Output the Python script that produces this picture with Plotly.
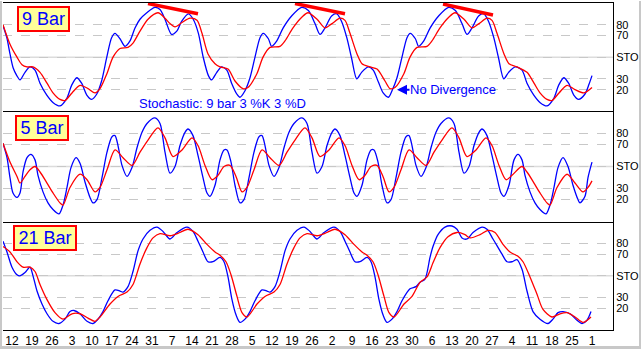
import plotly.graph_objects as go

# ---------------- data (bar index, stochastic value) ----------------
tick_labels = ["12", "19", "26", "3", "10", "17", "24", "31", "7", "14", "21", "28",
               "5", "12", "19", "26", "2", "9", "16", "23", "30", "6", "13", "20",
               "27", "4", "11", "18", "25", "1"]
tick_bars = [5 * i for i in range(len(tick_labels))]

# 9 bar stochastic
k9_bar = [-2.25, -1.3, -0.5, 0.3, 1.2, 2, 3.25, 4.5, 5.75, 7, 8.7, 10.3, 12, 13.7, 14.9, 16.2, 17.4, 18.7, 19.9,
          21.2, 22.4, 23.7, 24.9, 25.75, 27, 28.25, 29.5, 30.75, 32, 33.7, 35.75, 37, 38.25, 39.9, 41.2, 42.4, 44.1,
          45.3, 46.6, 47.8, 49.1, 49.9, 51.2, 52.4, 53.7, 54.9, 56.2, 57,
          58.25, 59.5, 60.75, 62, 62.8, 64.1, 64.9, 66.2, 67.8, 69.9, 72.4, 74.1, 75.75, 77, 78.25, 79.9, 81.2, 82.4,
          83.7, 84.9, 86.2, 87.4, 89.1, 90.3, 91.6, 92.8, 94.1,
          95, 96.25, 97.5, 98.75, 99.55, 100.85, 101.65, 102.95, 104.55, 106.65, 109.15, 110.85, 112.5, 113.75, 115,
          116.65, 117.95, 119.15, 120.45, 121.65, 122.95, 124.15, 125.85,
          127.5, 128.75, 130.45, 132.05, 133.75, 135.45, 136.65, 137.95, 139.15, 140.45, 141.65, 143.25, 144.25, 145]
k9_val = [79, 68, 53, 40, 33, 29, 36, 41, 38, 26, 15, 8, 5, 12, 24, 31, 26, 15, 11,
          16, 28, 50, 68, 72, 67, 60, 65, 77, 85, 91, 96, 94, 85, 71, 74, 83, 90,
          85, 72, 50, 33, 29, 36, 41, 38, 26, 16, 13,
          19, 31, 50, 68, 72, 67, 60, 65, 77, 88, 96, 93, 81, 71, 77, 88, 90, 83,
          68, 49, 30, 36, 41, 38, 27, 17, 13,
          19, 31, 50, 68, 72, 67, 60, 65, 77, 88, 96, 93, 81, 71, 77,
          88, 90, 83, 68, 49, 30, 36, 41,
          38, 26, 15, 8, 5, 12, 24, 31, 26, 15, 11, 16, 25, 33]
d9_bar = [-2.25, -0.5, 1.25, 2.5, 3.75, 5.25, 7, 8.75, 10.25, 12, 13.25, 15, 17, 19, 20.75,
          22, 23.75, 25.25, 27, 29, 30.25, 32, 34, 36.5, 38.25, 39.5, 40.75, 42.5, 44.5, 46.25, 47.5, 49, 50.75,
          52, 54, 55.75, 57.75,
          59, 61.25, 62.75, 64.5, 67, 68.25, 70.25, 72.5, 74, 76.25, 78.25, 80, 82, 83.25, 84.5, 86.25, 87.5, 89.5,
          91.25, 93.25, 94.5,
          95.75, 98, 99.5, 101.25, 103.75, 105, 107, 109.25, 110.75, 113, 115, 116.75, 118.75, 120, 121.25, 123,
          124.25, 126.25,
          128.75, 130.5, 132, 133.75, 135, 136.75, 138.75, 140.75, 143, 145]
d9_val = [80, 62, 50, 43, 41, 41, 36, 26, 17, 11, 10, 17, 24, 21, 17,
          21, 35, 50, 58, 59, 63, 74, 85, 91, 86, 81, 78, 82, 86, 84, 72, 53, 44,
          41, 39, 28, 21,
          22, 35, 50, 59, 60, 65, 77, 87, 91, 85, 77, 81, 86, 84, 72, 53, 44, 41,
          39, 28, 21,
          22, 35, 50, 59, 60, 65, 77, 87, 91, 85, 77, 81, 86, 84, 72, 53,
          44, 41,
          36, 26, 17, 11, 10, 17, 24, 20, 17, 22]

# 5 bar stochastic
k5_bar = [-2.25, -1.25, -0.5, 0.25, 1.25, 2, 2.75, 3.75, 4.75, 5.75, 6.5, 7.75, 9, 10.25, 11.75, 12.75, 13.75,
          14.75, 16, 17, 18.25, 19.5, 20.25,
          21.25, 22.5, 23.75, 25, 25.75, 26.5, 27.5, 28.75, 30, 31.25, 32.5, 33.75, 35.75, 37, 38.25, 39.5, 40.75,
          42, 43.25, 44, 45.25, 46.5, 47.75, 48.75, 49.5, 50.75, 52, 53, 53.75, 54.75, 55.75, 57,
          58, 59.25, 60.5, 61.75, 62.5, 63.25, 64.25, 65.5, 66.75, 68, 69.25, 70.5, 72.5, 73.75, 75, 76.25, 77.5,
          78.75, 80, 80.75, 82, 83.25, 84.5, 85.5, 86.25, 87.5, 88.75, 89.75, 90.5, 91.5, 92.5, 93.75,
          94.75, 96, 97.25, 98.5, 99.25, 100, 101, 102.25, 103.5, 104.75, 106, 107.25, 109.25, 110.5, 111.75, 113,
          114.25, 115.5, 116.75, 117.5, 118.75, 120, 121.25, 122.25, 123, 124.25, 125.5,
          126.5, 127.5, 128.25, 129.5, 130.75, 132, 133.5, 134.5, 135.5, 136.5, 137.75, 139, 140.25, 141.5, 142,
          143.25, 144, 145]
k5_val = [71, 58, 40, 26, 22, 26, 45, 58, 61, 56, 42, 27, 17, 11, 7, 15, 31,
          49, 58, 53, 36, 22, 17,
          20, 40, 63, 77, 78, 69, 51, 41, 49, 67, 81, 89, 94, 89, 63, 44, 50,
          69, 81, 84, 78, 60, 40, 26, 23, 33, 56, 65, 65, 54, 33, 17,
          20, 40, 63, 77, 78, 69, 51, 41, 49, 67, 81, 89, 94, 89, 63, 44, 50,
          69, 81, 84, 78, 60, 40, 26, 23, 33, 56, 65, 65, 54, 33, 17,
          20, 40, 63, 77, 78, 69, 51, 41, 49, 67, 81, 89, 94, 89, 63, 44,
          50, 69, 81, 84, 78, 60, 40, 26, 23, 33, 56,
          61, 56, 42, 27, 17, 11, 7, 15, 31, 49, 58, 50, 33, 20, 17,
          23, 40, 54]
d5_bar = [-2.25, -0.5, 1.25, 2, 3.25, 4.5, 5.75, 7, 8.75, 10.25, 12, 12.75, 14.5, 17, 18.75, 20.75,
          22, 23.75, 25.75, 27.75, 30, 32, 34, 36.5, 38.25, 40.25, 42.5, 45, 46.5, 48.25, 50, 51.5, 53, 54.5,
          56, 57.5,
          58.75, 60.5, 62.5, 64.5, 66.75, 68.75, 70.75, 73.25, 75, 77, 79.25, 81.75, 83.25, 85, 86.75, 88.25,
          89.75, 91.25, 92.75, 94.25,
          95.5, 97.25, 99.25, 101.25, 103.5, 105.5, 107.5, 110, 111.75, 113.75, 116, 118.5, 120, 121.75, 123.5,
          125,
          127.5, 128.75, 130.5, 132, 133.75, 134.5, 136.25, 138.75, 140.75, 142.75, 144, 145]
d5_val = [71, 54, 41, 35, 41, 47, 50, 45, 35, 26, 17, 15, 31, 43, 38, 27,
          31, 47, 65, 58, 51, 63, 74, 85, 76, 59, 65, 76, 69, 51, 38, 42, 50, 51,
          41, 27,
          31, 47, 65, 58, 51, 63, 74, 85, 76, 59, 65, 76, 69, 51, 38, 42,
          50, 51, 41, 27,
          31, 47, 65, 58, 51, 63, 74, 85, 76, 59, 65, 76, 69, 51, 38,
          42,
          50, 45, 35, 26, 17, 15, 31, 43, 35, 27, 31, 37]

# 21 bar stochastic
k21_bar = [-2.25, -1.25, 0, 1.25, 2, 3.25, 4.5, 5.25, 6.25, 7.5, 8.75, 10.25, 11.75, 13.25, 14.5, 15.5, 17,
           18.75, 20.25,
           21.5, 22.75, 24, 25.75, 27, 27.75, 29, 30.25, 31.5, 32.75, 34.5, 36.25, 37.75, 39.5, 41.25, 43.75,
           45.25, 46.5, 47.75, 49, 50.25, 52, 53, 54, 55, 56, 57,
           58.25, 59.5, 60.75, 62.5, 63.75, 64.5, 65.75, 67, 68.25, 69.5, 71.25, 73, 74.5, 76.25, 78, 80.5, 82,
           83.25, 84.5, 85.75, 87, 88.75, 89.75, 90.75, 91.75, 92.75, 93.75,
           95, 96.25, 97.5, 99.5, 101, 102, 103.25, 104.5, 105.25, 106.5, 108.25, 110, 111.25, 112.5, 113.75,
           115.25, 117.5, 118.75, 120.25, 122.5, 123.75, 125, 126.25, 127.5, 128.75, 130.25, 132, 134, 135.25,
           136.5, 137.75, 139.5, 141.25, 142.5, 143.75, 144.75]
k21_val = [82, 72, 58, 51, 50, 53, 58, 50, 36, 24, 15, 8, 6, 10, 17, 18, 15,
           8, 6,
           10, 17, 27, 37, 36, 35, 40, 54, 73, 84, 92, 95, 91, 84, 90, 95,
           91, 82, 72, 63, 63, 67, 63, 49, 28, 14, 7,
           10, 17, 27, 37, 36, 35, 40, 54, 73, 84, 92, 95, 91, 84, 90, 95, 91,
           82, 72, 63, 63, 67, 63, 49, 28, 14, 7,
           10, 17, 27, 38, 40, 44, 47, 67, 77, 88, 95, 96, 93, 85, 84,
           90, 95, 93, 84, 70, 63, 63, 65, 56, 36, 17, 10, 6, 10,
           16, 17, 15, 9, 6, 9, 17]
d21_bar = [-2.25, -0.5, 1.25, 2.75, 4.5, 5.75, 7, 8.75, 10.75, 12.75, 15, 17, 19, 20.75,
           22, 24.5, 26.5, 28.75, 30.25, 32, 33.75, 35.25, 37, 39.5, 42, 44, 46.5, 48.75, 50.75, 52, 53.5, 54.75,
           56.25, 57.5, 58.75,
           61.25, 63.25, 65.5, 67, 68.75, 70.5, 72, 73.75, 76.25, 78.75, 80.75, 83.25, 85.5, 87.5, 88.75, 90.25,
           91.5, 93, 94.25, 95.5,
           98, 100, 102, 103.75, 105.25, 107, 109, 111.25, 113.25, 114.5, 117, 119, 120.75, 122.75, 124.5, 126.5,
           127.75, 129.5, 131.25, 132.75, 135, 137, 138.75, 140.75, 142.75, 144.75]
d21_val = [77, 72, 63, 58, 58, 54, 42, 28, 16, 10, 15, 15, 11, 8,
           12, 24, 31, 35, 42, 61, 76, 85, 89, 87, 90, 93, 88, 79, 72, 69, 63, 51,
           31, 16, 12,
           24, 31, 35, 42, 61, 76, 85, 89, 87, 90, 93, 88, 79, 72, 69, 63,
           51, 31, 16, 12,
           24, 31, 44, 49, 62, 76, 86, 90, 88, 85, 88, 92, 90, 79, 72, 68,
           63, 49, 33, 19, 12, 15, 16, 12, 7, 12]

# divergence trend lines drawn on the 9 bar panel (bar, value)
div_bar0 = [34, 70.75, 107.75]
div_bar1 = [46.5, 83.25, 120.25]
div_val0 = [99.5, 99.5, 99]
div_val1 = [90, 90, 89]

panel_titles = ["9 Bar", "5 Bar", "21 Bar"]
grid_vals = [20, 30, 50, 70, 80]
grid_text = ["20", "30", "STO", "70", "80"]

# ---------------- figure ----------------
W, H = 641, 350
ML, MR, MT, MB = 3, 28, 2, 19
PX0, PX1, PY0, PY1 = 3, 613, 2, 331


def fx(px):
    return (px - PX0) / (PX1 - PX0)


def fy(py):
    return (PY1 - py) / (PY1 - PY0)


domains = [[fy(111), 1.0], [fy(222), fy(111)], [0.0, fy(222)]]
BLUE = "#0000FF"
RED = "#FF0000"
FONT = "Liberation Sans, Arial, sans-serif"

fig = go.Figure()
series = [(k9_bar, k9_val, d9_bar, d9_val), (k5_bar, k5_val, d5_bar, d5_val),
          (k21_bar, k21_val, d21_bar, d21_val)]
for i, (kb, kv, db, dv) in enumerate(series):
    xa = "x" if i == 0 else f"x{i + 1}"
    ya = "y" if i == 0 else f"y{i + 1}"
    fig.add_trace(go.Scatter(x=kb, y=kv, mode="lines", xaxis=xa, yaxis=ya,
                             line=dict(color=BLUE, width=1.3, shape="spline", smoothing=0.8),
                             hoverinfo="skip"))
    fig.add_trace(go.Scatter(x=db, y=dv, mode="lines", xaxis=xa, yaxis=ya,
                             line=dict(color=RED, width=1.3, shape="spline", smoothing=0.8),
                             hoverinfo="skip"))

for b0, b1, v0, v1 in zip(div_bar0, div_bar1, div_val0, div_val1):
    fig.add_trace(go.Scatter(x=[b0, b1], y=[v0, v1], mode="lines", xaxis="x", yaxis="y",
                             line=dict(color=RED, width=3.5), hoverinfo="skip"))

layout = dict(width=W, height=H, margin=dict(l=ML, r=MR, t=MT, b=MB),
              paper_bgcolor="white", plot_bgcolor="white", showlegend=False,
              font=dict(family=FONT, color="black"))
for i in range(3):
    xk = "xaxis" if i == 0 else f"xaxis{i + 1}"
    yk = "yaxis" if i == 0 else f"yaxis{i + 1}"
    xa = "x" if i == 0 else f"x{i + 1}"
    ya = "y" if i == 0 else f"y{i + 1}"
    layout[xk] = dict(domain=[0, 1], anchor=ya, range=[-2.25, 150.25], showgrid=False, zeroline=False,
                      showline=True, linecolor="black", linewidth=1, mirror=(i == 0), ticks="",
                      showticklabels=(i == 2), tickvals=tick_bars, ticktext=tick_labels,
                      tickfont=dict(size=12, color="black", family=FONT),
                      fixedrange=True)
    if i > 0:
        layout[xk]["matches"] = "x"
    layout[yk] = dict(domain=domains[i], anchor=xa, side="right", range=[0, 100],
                      tickvals=grid_vals, ticktext=grid_text, showgrid=True, gridcolor="#c8c8c8",
                      griddash="dash", gridwidth=1, zeroline=False, showline=True, linecolor="black",
                      linewidth=1, ticks="", tickfont=dict(size=11, color="black", family=FONT),
                      fixedrange=True)
fig.update_layout(**layout)

shapes = []
for i in range(3):
    xa = "x" if i == 0 else f"x{i + 1}"
    ya = "y" if i == 0 else f"y{i + 1}"
    shapes.append(dict(type="line", xref=f"{xa} domain", yref=ya, x0=0, x1=1, y0=50, y1=50,
                       line=dict(color="#dcdcdc", width=1.5), layer="below"))
# window frame strips
shapes.append(dict(type="rect", xref="paper", yref="paper", x0=fx(0), x1=fx(2), y0=fy(350), y1=fy(0),
                   fillcolor="#c8c8c8", line=dict(width=0)))
shapes.append(dict(type="rect", xref="paper", yref="paper", x0=fx(639), x1=fx(641), y0=fy(350), y1=fy(0),
                   fillcolor="#c8c8c8", line=dict(width=0)))
shapes.append(dict(type="rect", xref="paper", yref="paper", x0=fx(0), x1=fx(641), y0=fy(350), y1=fy(347),
                   fillcolor="#c8c8c8", line=dict(width=0)))
fig.update_layout(shapes=shapes)

annotations = []
boxes = [(17, 5, 49), (15, 115, 50), (13, 225, 60)]
for title, (bx, by, bw) in zip(panel_titles, boxes):
    annotations.append(dict(text=title, xref="paper", yref="paper", x=fx(bx), y=fy(by),
                            xanchor="left", yanchor="top", showarrow=False, width=bw, height=22,
                            bgcolor="#FFFF99", bordercolor=RED, borderwidth=2, borderpad=0,
                            font=dict(size=18, color=BLUE, family=FONT)))
annotations.append(dict(text="Stochastic: 9 bar 3 %K 3 %D", xref="paper", yref="paper",
                        x=fx(137), y=fy(103), xanchor="left", yanchor="middle", showarrow=False,
                        font=dict(size=13, color=BLUE, family=FONT)))
annotations.append(dict(text="No Divergence", xref="x", yref="y", x=96.25, y=20, ax=56, ay=0,
                        showarrow=True, arrowhead=2, arrowsize=1, arrowwidth=2, arrowcolor=BLUE,
                        standoff=0, borderpad=0, font=dict(size=13, color=BLUE, family=FONT)))
fig.update_layout(annotations=annotations)

fig.write_html("out.html")
